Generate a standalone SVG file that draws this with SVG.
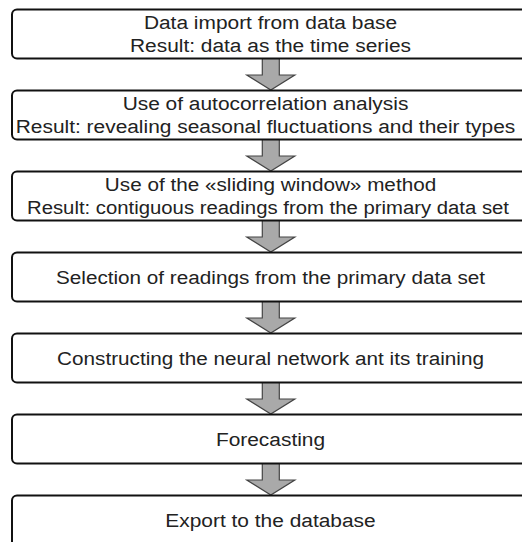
<svg xmlns="http://www.w3.org/2000/svg" width="522" height="542" viewBox="0 0 522 542">
<defs>
<style>
.box{fill:#fff;stroke:#111;stroke-width:2}
.t{font-family:"Liberation Sans",Arial,sans-serif;font-size:19px;fill:#222;text-anchor:middle}
.arr{fill:#a9a9a9;stroke:#444;stroke-width:1.2;stroke-linejoin:miter}
</style>
<path id="a" d="M-8.5,0 H8.5 V16.5 H24 L0,31.5 L-24,16.5 H-8.5 Z"/>
</defs>
<rect width="522" height="542" fill="#fff"/>
<g id="connectors">
<use href="#a" class="arr" x="270.8" y="58.5"/>
<use href="#a" class="arr" x="270.8" y="139.5"/>
<use href="#a" class="arr" x="270.8" y="220.5"/>
<use href="#a" class="arr" x="270.8" y="301.5"/>
<use href="#a" class="arr" x="270.8" y="382.5"/>
<use href="#a" class="arr" x="270.8" y="463.5"/>
</g>
<g id="n1"><rect class="box" x="12" y="9.5" width="530" height="49" rx="5"/>
<g transform="translate(270.5,0) scale(1.1,1)">
<text class="t" x="0" y="28.7">Data import from data base</text>
<text class="t" x="0" y="52">Result: data as the time series</text></g></g>
<g id="n2"><rect class="box" x="12" y="90.5" width="530" height="49" rx="5"/>
<g transform="translate(265.5,0) scale(1.1,1)">
<text class="t" x="0" y="109.7">Use of autocorrelation analysis</text>
<text class="t" x="0" y="133">Result: revealing seasonal fluctuations and their types</text></g></g>
<g id="n3"><rect class="box" x="12" y="171.5" width="530" height="49" rx="5"/>
<g transform="translate(270.5,0) scale(1.09,1)">
<text class="t" x="0" y="190.7">Use of the «sliding window» method</text></g>
<g transform="translate(268,0) scale(1.07,1)">
<text class="t" x="0" y="214">Result: contiguous readings from the primary data set</text></g></g>
<g id="n4"><rect class="box" x="12" y="252.5" width="530" height="49" rx="5"/>
<g transform="translate(270.5,0) scale(1.09,1)">
<text class="t" x="0" y="284.5">Selection of readings from the primary data set</text></g></g>
<g id="n5"><rect class="box" x="12" y="333.5" width="530" height="49" rx="5"/>
<g transform="translate(270.5,0) scale(1.09,1)">
<text class="t" x="0" y="365.5">Constructing the neural network ant its training</text></g></g>
<g id="n6"><rect class="box" x="12" y="414.5" width="530" height="49" rx="5"/>
<g transform="translate(270.5,0) scale(1.1,1)">
<text class="t" x="0" y="446.5">Forecasting</text></g></g>
<g id="n7"><rect class="box" x="12" y="495.5" width="530" height="60" rx="5"/>
<g transform="translate(270.5,0) scale(1.1,1)">
<text class="t" x="0" y="527.5">Export to the database</text></g></g>
</svg>
